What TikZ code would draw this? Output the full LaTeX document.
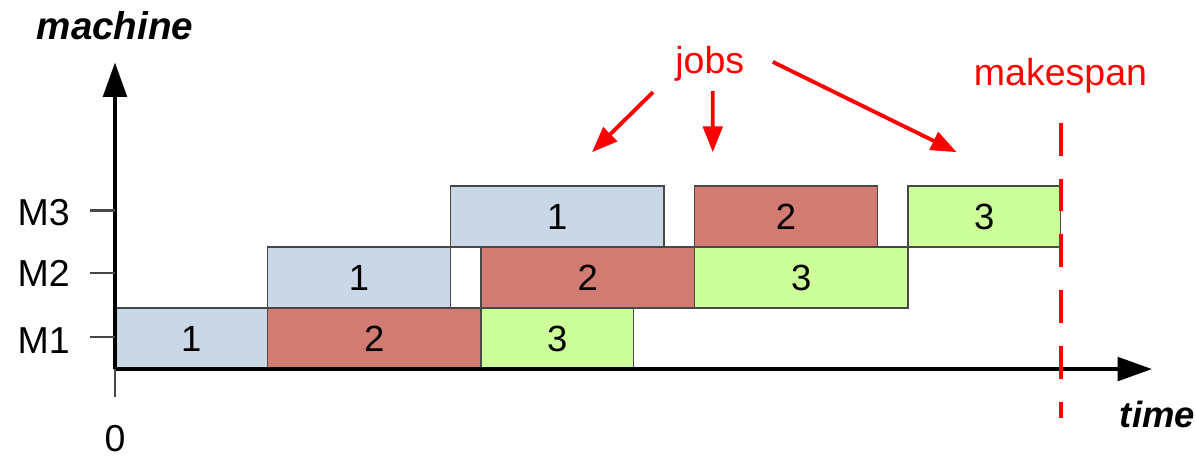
\documentclass[tikz,border=0pt]{standalone}
\usepackage{fontspec}
\setmainfont{Liberation Sans}
\usetikzlibrary{arrows.meta}
\definecolor{jobblue}{HTML}{CAD7E6}
\definecolor{jobred}{HTML}{D27B72}
\definecolor{jobgreen}{HTML}{CCFF99}
\definecolor{edgegray}{HTML}{484848}

\begin{document}
\begin{tikzpicture}[x=0.5cm,y=0.5cm,
        job/.style={draw=edgegray, line width=0.7pt},
        axis/.style={line width=1.6pt, -{Triangle[length=16pt,width=11pt]}},
        pointer/.style={red, line width=1.8pt, -{Triangle[length=12pt,width=9pt]}},
        lbl/.style={font=\fontsize{17.5}{20}\selectfont, anchor=base},
        num/.style={font=\fontsize{17}{20}\selectfont}]
    \useasboundingbox (-3.77,-2.885) rectangle (35.41,12.1);
    % start/end/row/colour/job
    \foreach \a/\b/\r/\c/\n in {0/5/0/jobblue/1, 5/12/0/jobred/2, 12/17/0/jobgreen/3,
            5/11/1/jobblue/1, 12/19/1/jobred/2, 19/26/1/jobgreen/3,
            11/18/2/jobblue/1, 19/25/2/jobred/2, 26/31/2/jobgreen/3}
        \draw[job, fill=\c] (\a,2*\r) rectangle (\b,2*\r+2) node[midway, num] {\n};
    \draw[axis] (0,0) -- (0,10.05);
    \draw[axis] (0,0) -- (34,0);
    \draw[line width=1pt, edgegray] (0,0) -- (0,-0.92);
    \foreach \y/\m/\t in {1.05/M1/0.52, 3.15/M2/2.7, 5.2/M3/4.72} {
        \draw[line width=1pt, edgegray] (-0.82,\y) -- (0,\y);
        \node[lbl] (\m) at (-2.34,\t) {\m};
    }
    \node[lbl] (zero) at (0,-2.7) {0};
    \node[lbl, font=\fontsize{18}{21}\selectfont\bfseries\itshape] (machine) at (0,10.79) {machine};
    \node[lbl, anchor=base west, font=\fontsize{17}{20}\selectfont\bfseries\itshape] (time) at (32.7,-1.9) {time};
    \node[lbl, red] (jobs) at (19.5,9.7) {jobs};
    \node[lbl, red] (makespan) at (31.0,9.31) {makespan};
    \coordinate (j1) at (15.64,7.11);
    \coordinate (j2) at (19.6,7.11);
    \coordinate (j3) at (27.6,7.11);
    \draw[pointer] ([shift={(-1.86,-0.62)}]jobs.base) -- (j1);
    \draw[pointer] ([shift={(0.1,-0.59)}]jobs.base) -- (j2);
    \draw[pointer] ([shift={(2.07,0.37)}]jobs.base) -- (j3);
    % makespan line
    \draw[red, line width=1.9pt, dash pattern=on 15.3pt off 10.7pt] (31.03,8.07) -- (31.03,-1.6);
\end{tikzpicture}
\end{document}
